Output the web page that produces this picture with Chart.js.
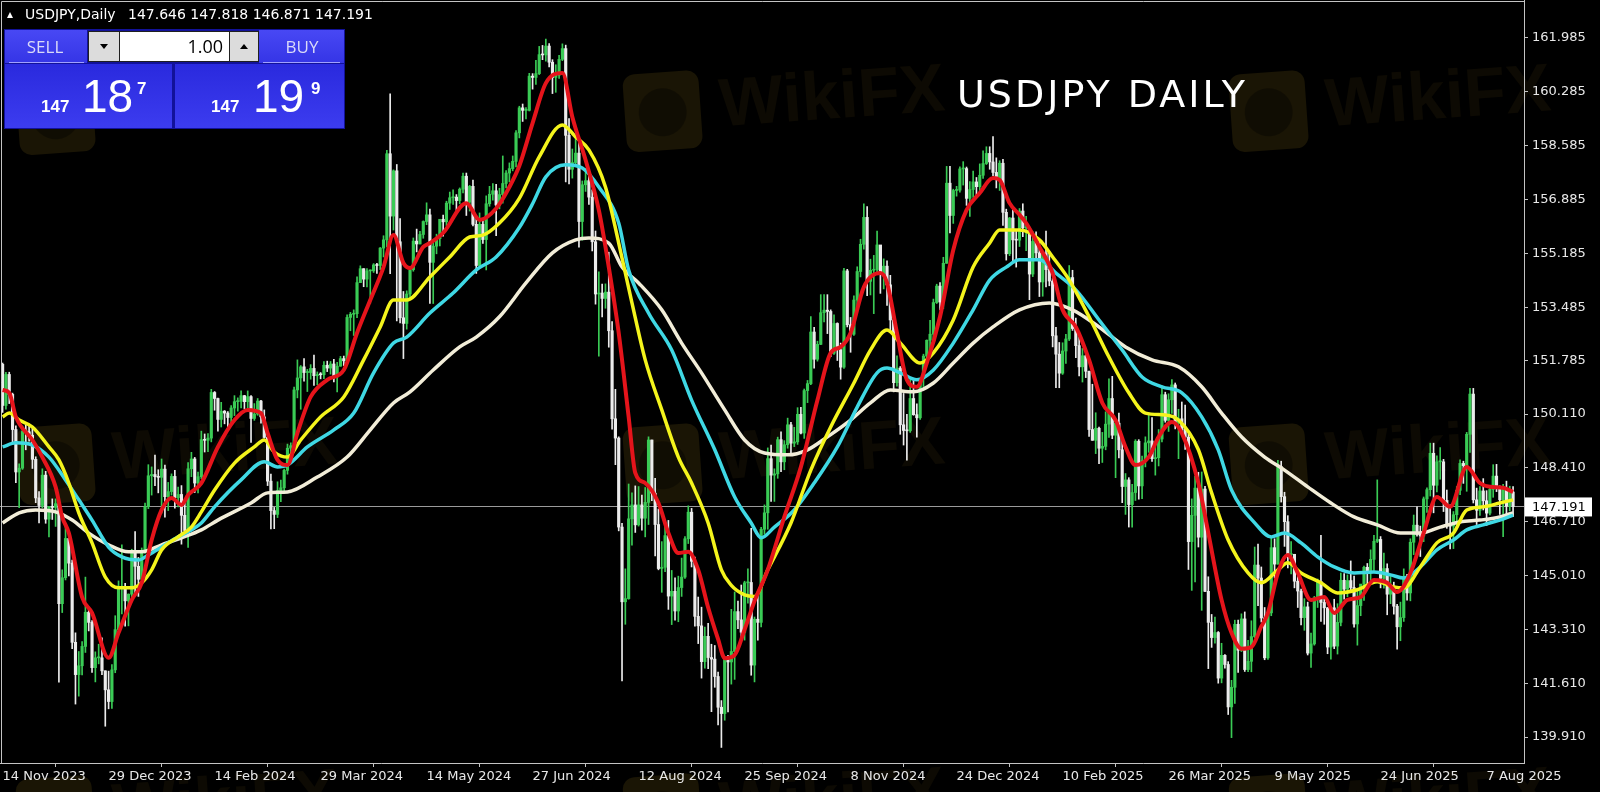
<!DOCTYPE html>
<html lang="en">
<head>
<meta charset="UTF-8">
<title>USDJPY Daily</title>
<script src="https://cdn.jsdelivr.net/npm/chart.js"></script>
<style>
    html, body { margin: 0; padding: 0; background: #000; }
    #chartBox { width: 1600px; height: 792px; }
</style>
</head>
<body>
<div id="chartBox"><canvas id="fxChart" width="1600" height="792"></canvas></div>
<script>
// daily candles, bar 0 = 14 Nov 2023, last bar = 19 Aug 2025
const opens = [
  151.68,150.38,151.36,150.73,149.62, 148.28,148.40,149.56,149.55,
  149.44,148.68,147.46,147.22,148.18, 146.79,147.19,147.16,147.28,144.12,
  144.94,146.18,145.40,142.90,141.88, 142.16,142.77,143.85,143.53,142.10,
  142.41,142.41,142.00,141.40, 141.03,142.03,143.30,144.60,
  144.64,144.21,144.42,145.74,145.30, 144.89,145.76,147.19,148.16,148.20,
  148.13,148.11,148.37,147.50,147.66, 148.14,147.47,147.57,146.91,146.43,
  148.38,148.69,147.93,148.13,149.30, 149.28,149.35,150.79,150.60,149.94,
  150.20,150.14,150.00,150.30,150.50, 150.51,150.69,150.50,150.66,149.97,
  150.11,150.52,150.02,149.37,147.99, 147.06,146.94,147.69,147.78,148.33,
  149.03,149.11,150.87,151.25,151.60, 151.42,151.42,151.55,151.32,151.36,
  151.35,151.65,151.56,151.69,151.28, 151.62,151.86,151.79,153.16,153.26,
  153.28,154.26,154.70,154.37,154.63, 154.63,154.82,154.80,155.35,155.61,
  158.33,156.36,157.79,155.55,153.15, 152.97,153.90,154.67,155.57,155.48,
  155.78,156.19,156.40,154.90,155.41, 155.65,156.26,156.18,156.77,156.94,
  156.96,156.85,157.21,157.62,156.80, 157.30,156.10,154.80,156.10,155.62,
  156.75,157.05,157.16,156.71,157.04, 157.39,157.72,157.86,158.09,158.99,
  159.78,159.70,159.70,160.78,160.74, 160.86,161.46,161.45,161.73,161.22,
  160.74,160.81,161.31,161.65,158.91, 157.84,158.05,158.35,156.19,157.35,
  157.48,156.96,155.55,153.90,153.93, 153.76,153.96,152.74,149.96,149.35,
  146.54,144.18,144.28,146.80,147.24, 146.61,147.24,146.82,147.32,149.29,
  147.61,146.62,145.23,145.27,146.27, 144.36,144.51,143.89,144.63,144.96,
  146.17,147.01,145.46,143.72,143.42, 142.29,143.09,142.42,142.37,141.82,
  140.85,140.65,142.36,142.28,142.61, 143.87,143.61,143.22,144.78,144.79,
  142.18,143.63,143.53,146.47,146.99, 148.70,148.18,148.22,149.30,148.60,
  149.14,149.77,149.19,149.23,150.10, 149.51,150.85,151.07,152.70,151.84,
  152.31,153.31,153.39,153.35,152.03, 152.97,152.14,151.59,154.63,152.93,
  152.63,153.71,154.61,155.47,156.32, 154.30,154.65,154.67,155.45,154.54,
  154.78,154.19,153.08,151.10,151.56, 149.77,149.59,149.58,150.60,150.09,
  149.99,151.24,151.94,152.44,152.63, 153.63,154.15,153.65,154.87,157.40,
  156.38,157.17,157.18,157.85, 157.86,156.92, 157.20,157.44,
  157.29,157.65,158.02,158.34,158.07, 157.74,157.55,158.03,156.48,155.17,
  156.30,155.61,155.60,156.52,155.99, 155.99,154.53,155.56,155.20,154.28,
  155.19,154.67,154.31,152.58,152.00, 151.40,152.10,152.48,154.42,152.81,
  152.27,151.60,151.95,151.46,149.62, 149.28,149.66,149.03,149.09,149.79,
  150.60,149.44,149.82,148.98,147.82, 148.03,147.25,147.63,149.25,147.84,
  148.64,149.20,149.26,148.70,148.73, 149.32,150.72,149.91,150.56,151.03,
  149.83,149.96,149.62,149.38,146.08, 146.91,147.77,146.22,147.74,144.51,
  143.53,143.05,143.21,141.77,142.49, 142.20,140.86,141.48,143.47,142.65,
  143.64,142.04,142.30,143.08,145.34, 144.93,143.67,142.41,143.83,145.89,
  145.37,148.45,147.50,146.71,145.67, 145.68,144.83,144.52,143.68,144.02,
  142.56,142.85,144.30,144.82,144.16, 143.99,142.75,143.99,142.78,143.53,
  144.86,144.58,144.85,144.63,143.48, 144.06,144.74,145.27,145.11,145.52,
  146.09,146.15,144.92,145.23,144.42, 144.63,144.04,143.39,143.68,144.95,
  144.46,146.06,146.60,146.31,146.26, 147.43,147.72,148.87,147.86,148.60,
  148.60,147.38,146.59,146.57,146.93, 147.70,148.55,148.48,149.47,150.74,
  147.40,147.07,147.68,147.37,146.98, 147.73,148.15,147.82,147.40,147.73,
  147.20,147.646
];
const highs = [
  151.72,151.43,151.43,150.77,149.74, 148.54,149.73,149.76,149.79,
  149.69,148.76,147.66,148.38,148.30, 147.18,147.43,147.43,147.31,145.19,
  146.59,146.34,145.50,143.20,142.61, 142.92,144.96,144.01,143.59,142.60,
  142.84,143.04,142.00,141.99, 142.20,143.74,144.84,145.98,
  144.76,144.43,145.84,146.40,145.58, 145.88,147.30,148.51,148.44,148.81,
  148.35,148.69,148.50,147.95,148.22, 148.33,147.80,147.85,147.38,148.58,
  148.90,148.74,148.28,149.57,149.48, 149.49,150.89,150.82,150.61,150.48,
  150.22,150.19,150.38,150.69,150.62, 150.84,150.70,150.84,150.69,150.44,
  150.60,150.54,150.24,149.45,148.21, 147.16,147.97,148.02,148.37,149.16,
  149.20,150.96,151.82,151.64,151.86, 151.52,151.67,151.97,151.44,151.42,
  151.77,151.78,151.77,151.84,151.74, 151.93,151.94,153.24,153.32,153.40,
  154.44,154.79,154.70,154.70,154.66, 154.86,154.87,155.37,155.74,158.44,
  160.22,157.82,157.99,156.28,153.98, 154.00,154.75,155.67,155.95,155.88,
  156.21,156.78,156.58,155.56,155.79, 156.26,156.39,156.83,157.12,157.19,
  157.04,157.25,157.72,157.72,157.33, 157.50,156.28,156.46,156.23,157.00,
  157.30,157.39,157.36,157.24,158.26, 157.80,158.04,158.26,159.06,159.83,
  159.90,159.79,160.87,160.86,161.28, 161.72,161.75,161.95,161.81,161.30,
  161.14,161.44,161.80,161.76,159.44, 158.48,158.87,158.85,157.47,157.86,
  157.87,157.19,155.89,154.60,154.21, 154.22,155.22,153.03,150.89,149.39,
  146.66,145.22,147.90,147.62,147.84, 147.82,147.55,147.79,149.39,149.29,
  148.08,147.11,146.08,146.64,146.75, 145.17,144.94,144.99,145.56,146.24,
  147.21,147.13,145.59,144.33,144.01, 143.38,143.50,142.84,142.80,141.96,
  141.06,142.45,142.49,143.94,144.49, 144.20,144.71,144.83,145.22,146.50,
  143.70,144.53,146.53,147.24,149.04, 149.13,148.38,149.38,149.55,149.27,
  149.98,149.85,149.69,150.31,150.32, 150.90,151.17,153.19,152.85,152.41,
  153.88,153.88,153.88,153.40,153.24, 152.99,152.35,154.71,154.68,153.16,
  153.84,154.76,155.63,156.75,156.66, 155.00,155.12,155.89,155.38,155.01,
  154.95,154.49,153.15,151.95,151.61, 150.76,150.10,151.24,151.23,150.43,
  151.24,152.00,152.45,153.07,153.74, 154.21,154.26,155.06,157.93,157.93,
  157.21,157.30,157.92,158.08, 157.91,157.45, 157.78,157.58,
  158.01,158.42,158.55,158.55,158.87, 158.20,158.11,158.15,156.58,156.32,
  156.56,155.88,156.60,156.75,156.35, 156.01,155.87,155.86,155.56,155.22,
  155.89,155.17,154.39,152.85,152.37, 152.36,152.63,154.80,154.65,153.14,
  152.53,152.18,152.14,151.47,151.05, 150.15,149.70,149.53,150.18,151.22,
  151.30,149.90,150.14,149.28,148.23, 148.10,147.89,149.30,149.30,148.78,
  149.39,150.15,150.00,149.20,149.62, 151.00,150.80,150.75,151.20,151.09,
  150.26,150.49,150.39,149.49,147.43, 148.14,148.27,148.28,147.83,144.97,
  143.78,143.70,143.24,142.87,142.51, 142.29,141.70,143.60,143.60,143.80,
  143.86,142.96,143.58,145.91,146.00, 145.28,144.00,143.88,146.18,146.17,
  148.65,148.62,147.64,146.90,146.08, 145.68,144.98,144.58,144.28,144.17,
  143.19,144.35,144.90,146.28,144.29, 144.00,144.03,144.26,144.12,145.09,
  145.07,145.03,145.47,144.99,144.55, 144.68,145.31,145.39,145.82,146.28,
  148.03,146.24,145.72,145.38,144.98, 144.80,144.10,144.17,145.22,145.05,
  146.17,146.92,147.18,146.57,147.49, 147.78,149.19,149.19,148.79,149.05,
  148.68,147.71,147.24,147.03,147.82, 148.66,148.62,149.53,150.92,150.92,
  147.77,147.82,148.07,147.69,147.83, 148.51,148.52,147.84,147.89,147.99,
  147.83,147.818
];
const lows = [
  150.16,150.26,150.44,149.19,147.94, 147.15,148.36,148.98,149.25,
  148.39,147.31,146.67,147.15,146.66, 146.23,146.78,146.56,141.64,143.84,
  144.87,145.00,142.70,140.95,141.20, 141.87,142.58,143.26,141.95,141.65,
  142.22,141.88,140.25,140.80, 140.81,141.94,143.17,143.80,
  143.41,143.42,144.33,144.35,144.35, 144.87,145.71,147.12,147.55,147.85,
  147.62,146.98,146.85,147.06,147.55, 147.14,147.18,146.00,146.22,145.90,
  148.13,147.63,147.62,148.07,148.91, 148.92,149.23,150.23,149.57,149.70,
  149.80,149.68,149.84,150.06,150.20, 150.30,150.28,150.27,149.21,149.91,
  150.07,149.82,149.35,147.85,146.48, 146.49,146.84,147.34,147.60,148.21,
  148.66,148.94,150.62,150.26,151.15, 150.82,151.21,151.01,151.03,151.22,
  151.23,151.45,151.37,151.12,150.81, 151.62,151.64,151.66,152.74,152.59,
  153.15,154.26,154.13,154.12,153.60, 154.58,154.55,154.67,155.07,155.39,
  154.54,155.92,153.05,152.99,151.86, 152.79,153.75,154.62,155.23,155.48,
  155.66,156.09,153.60,153.60,155.17, 155.42,155.73,156.06,156.57,156.73,
  156.54,156.75,157.09,156.38,156.52, 156.05,154.55,154.71,155.50,154.66,
  156.67,156.86,155.74,156.59,156.77, 157.25,157.44,157.79,157.91,158.83,
  159.35,159.43,159.68,160.37,160.52, 160.83,161.30,161.25,161.07,160.23,
  160.27,160.71,161.27,157.44,157.38, 157.56,157.93,155.38,155.60,157.14,
  156.73,155.26,153.58,151.94,153.18, 153.45,152.22,149.63,148.51,146.42,
  141.68,143.47,144.26,145.97,146.37, 146.57,146.44,146.23,146.62,147.37,
  145.63,145.19,144.48,145.13,143.94, 143.46,143.60,143.55,144.35,144.92,
  146.02,145.28,143.41,142.86,141.77, 142.08,142.07,140.71,141.48,140.29,
  139.58,140.44,140.70,141.58,141.73, 143.33,143.04,142.97,144.14,141.86,
  141.65,142.97,143.39,146.31,146.47, 147.35,147.35,148.08,148.29,148.35,
  149.03,148.85,149.08,149.15,149.48, 149.34,150.47,151.04,151.56,151.78,
  152.30,153.02,152.65,151.92,151.99, 151.80,151.21,151.55,152.86,152.06,
  152.59,153.51,154.44,155.32,153.85, 153.87,153.28,154.60,153.92,154.06,
  153.54,152.75,150.81,150.99,149.47, 149.13,148.65,149.53,150.07,149.38,
  149.94,150.98,151.76,152.14,152.44, 153.60,153.40,153.44,154.87,155.83,
  156.13,156.99,157.12,157.34, 156.70,156.35, 156.95,156.95,
  157.06,157.55,157.99,157.84,157.64, 157.25,157.17,156.07,154.97,155.11,
  154.91,154.75,155.40,155.71,155.27, 153.72,154.45,155.05,153.82,153.83,
  154.12,154.16,152.23,150.94,150.94, 151.36,151.71,152.43,152.75,151.89,
  151.31,151.12,151.26,149.40,149.28, 148.86,148.54,148.58,148.98,149.37,
  149.33,148.10,148.72,147.31,146.94, 146.54,146.54,147.38,147.42,147.44,
  148.44,148.90,148.61,148.18,148.47, 149.23,149.85,149.56,150.13,149.64,
  148.70,149.51,148.99,145.20,144.54, 144.81,145.91,143.91,144.50,142.07,
  142.74,142.87,141.61,141.62,142.08, 140.62,139.89,140.97,141.95,142.61,
  141.98,141.97,141.97,143.05,144.06, 143.54,142.35,142.36,143.74,144.93,
  145.37,147.33,145.93,145.25,145.06, 144.62,144.00,143.45,143.28,142.50,
  142.11,142.81,144.00,143.56,143.47, 142.54,142.37,142.70,142.53,143.42,
  144.26,144.34,144.55,143.38,142.81, 143.74,144.22,144.61,144.84,145.17,
  146.05,144.62,144.61,143.77,144.12, 143.79,142.68,142.95,143.56,144.23,
  144.21,145.67,146.25,145.61,146.08, 147.00,147.52,146.99,147.65,148.05,
  147.03,146.50,145.85,145.86,146.61, 147.56,147.92,147.67,148.90,147.30,
  146.62,146.91,147.08,146.59,146.92, 147.48,147.66,146.94,146.24,146.88,
  147.05,146.871
];
const closes = [
  150.38,151.36,150.73,149.62,148.28, 148.40,149.56,149.55,149.44,
  148.68,147.46,147.22,148.18,146.79, 147.19,147.16,147.28,144.12,144.94,
  146.18,145.40,142.90,141.88,142.16, 142.77,143.85,143.53,142.10,142.41,
  142.41,142.00,141.40,141.03, 142.03,143.30,144.60,144.64,
  144.21,144.42,145.74,145.30,144.89, 145.76,147.19,148.16,148.20,148.13,
  148.11,148.37,147.50,147.66,148.14, 147.47,147.57,146.91,146.43,148.38,
  148.69,147.93,148.13,149.30,149.28, 149.35,150.79,150.60,149.94,150.20,
  150.14,150.00,150.30,150.50,150.51, 150.69,150.50,150.66,149.97,150.11,
  150.52,150.02,149.37,147.99,147.06, 146.94,147.69,147.78,148.33,149.03,
  149.11,150.87,151.25,151.60,151.42, 151.42,151.55,151.32,151.36,151.35,
  151.65,151.56,151.69,151.28,151.62, 151.86,151.79,153.16,153.26,153.28,
  154.26,154.70,154.37,154.63,154.63, 154.82,154.80,155.35,155.61,158.33,
  156.36,157.79,155.55,153.15,152.97, 153.90,154.67,155.57,155.48,155.78,
  156.19,156.40,154.90,155.41,155.65, 156.26,156.18,156.77,156.94,156.96,
  156.85,157.21,157.62,156.80,157.30, 156.10,154.80,156.10,155.62,156.75,
  157.05,157.16,156.71,157.04,157.39, 157.72,157.86,158.09,158.99,159.78,
  159.70,159.70,160.78,160.74,160.86, 161.46,161.45,161.73,161.22,160.74,
  160.81,161.31,161.65,158.91,157.84, 158.05,158.35,156.19,157.35,157.48,
  156.96,155.55,153.90,153.93,153.76, 153.96,152.74,149.96,149.35,146.54,
  144.18,144.28,146.80,147.24,146.61, 147.24,146.82,147.32,149.29,147.61,
  146.62,145.23,145.27,146.27,144.36, 144.51,143.89,144.63,144.96,146.17,
  147.01,145.46,143.72,143.42,142.29, 143.09,142.42,142.37,141.82,140.85,
  140.65,142.36,142.28,142.61,143.87, 143.61,143.22,144.78,144.79,142.18,
  143.63,143.53,146.47,146.99,148.70, 148.18,148.22,149.30,148.60,149.14,
  149.77,149.19,149.23,150.10,149.51, 150.85,151.07,152.70,151.84,152.31,
  153.31,153.39,153.35,152.03,152.97, 152.14,151.59,154.63,152.93,152.63,
  153.71,154.61,155.47,156.32,154.30, 154.65,154.67,155.45,154.54,154.78,
  154.19,153.08,151.10,151.56,149.77, 149.59,149.58,150.60,150.09,149.99,
  151.24,151.94,152.44,152.63,153.63, 154.15,153.65,154.87,157.40,156.38,
  157.17,157.18,157.85,157.86, 156.92,157.20, 157.44,157.29,
  157.65,158.02,158.34,158.07,157.74, 157.55,158.03,156.48,155.17,156.30,
  155.61,155.60,156.52,155.99,155.99, 154.53,155.56,155.20,154.28,155.19,
  154.67,154.31,152.58,152.00,151.40, 152.10,152.48,154.42,152.81,152.27,
  151.60,151.95,151.46,149.62,149.28, 149.66,149.03,149.09,149.79,150.60,
  149.44,149.82,148.98,147.82,148.03, 147.25,147.63,149.25,147.84,148.64,
  149.20,149.26,148.70,148.73,149.32, 150.72,149.91,150.56,151.03,149.83,
  149.96,149.62,149.38,146.08,146.91, 147.77,146.22,147.74,144.51,143.53,
  143.05,143.21,141.77,142.49,142.20, 140.86,141.48,143.47,142.65,143.64,
  142.04,142.30,143.08,145.34,144.93, 143.67,142.41,143.83,145.89,145.37,
  148.45,147.50,146.71,145.67,145.68, 144.83,144.52,143.68,144.02,142.56,
  142.85,144.30,144.82,144.16,143.99, 142.75,143.99,142.78,143.53,144.86,
  144.58,144.85,144.63,143.48,144.06, 144.74,145.27,145.11,145.52,146.09,
  146.15,144.92,145.23,144.42,144.63, 144.04,143.39,143.68,144.95,144.46,
  146.06,146.60,146.31,146.26,147.43, 147.72,148.87,147.86,148.60,148.60,
  147.38,146.59,146.57,146.93,147.70, 148.55,148.48,149.47,150.74,147.40,
  147.07,147.68,147.37,146.98,147.73, 148.15,147.82,147.40,147.73,147.20,
  147.64,147.191
];

// moving averages (bar index -> price)
const redBars = [0,2,4,9,12,16,18,20,24,27,32,35,39,42,45,48,51,54,56,60,65,70,74,78,80,83,86,89,93,98,103,107,111,115,118,121,123,127,129,133,140,144,149,153,156,160,164,169,172,176,180,183,186,189,191,194,198,201,204,207,210,213,216,218,221,224,227,231,236,241,246,250,253,256,260,265,267,270,273,276,279,283,287,291,295,299,301,304,307,309,313,317,320,324,328,332,336,339,342,346,349,353,356,361,364,368,371,374,377,380,382,385,388,391,395,399,402,406,410,414,418,421,425,429,433,437,442,446,449,453,456];
const redVals = [150.87,150.78,150.02,149.29,148.75,147.81,146.86,146.35,144.33,143.83,142.41,143.20,144.24,144.78,146.13,147.08,147.46,147.24,147.55,147.93,149.07,149.92,150.24,150.14,149.51,148.66,148.50,149.51,150.65,151.19,151.50,152.67,153.71,154.75,155.76,154.88,154.72,155.39,155.51,155.83,156.77,156.24,156.60,157.28,157.95,159.30,160.56,160.88,159.49,158.13,156.55,154.75,152.67,150.02,148.25,147.93,147.30,146.35,145.72,145.76,145.19,144.00,143.00,142.40,142.50,143.30,144.20,145.19,146.86,148.44,150.55,152.04,152.23,152.67,154.12,154.56,154.25,152.67,151.19,150.97,151.72,153.18,155.29,156.55,157.09,157.56,157.50,156.77,156.40,156.14,155.39,154.56,153.40,152.86,151.82,150.46,149.92,149.07,148.50,148.75,149.39,149.86,149.51,147.93,146.35,144.24,143.20,142.70,142.75,143.40,143.83,145.09,145.66,145.09,144.24,144.33,143.83,144.24,144.33,144.87,144.78,144.49,145.09,146.35,147.49,147.18,148.44,147.93,147.81,147.78,147.65];
const yellowBars = [0,2,5,9,14,17,20,23,27,31,35,39,42,45,48,53,57,60,64,70,76,79,82,86,90,96,103,109,114,118,122,129,135,141,145,150,156,162,169,173,177,182,186,190,194,199,204,208,213,217,220,224,227,231,238,244,250,257,262,267,271,277,281,287,293,298,301,307,313,317,322,328,334,340,345,351,355,361,365,370,376,380,385,388,392,398,403,409,415,420,423,428,433,438,442,447,452,456];
const yellowVals = [150.02,150.14,149.92,149.70,149.07,148.66,147.93,146.99,146.04,144.96,144.62,144.62,144.78,145.19,145.82,146.23,146.54,147.02,147.71,148.56,149.07,149.29,148.91,148.75,149.29,150.02,150.65,151.82,152.86,153.71,153.71,154.44,155.07,155.70,155.76,156.14,156.92,158.23,159.24,158.86,158.45,157.28,155.51,153.62,151.82,150.24,148.75,147.93,146.67,145.19,144.70,144.40,144.35,145.19,146.67,148.34,149.70,151.09,152.13,152.76,152.35,151.72,152.04,153.08,154.75,155.51,155.92,155.92,155.61,155.07,154.34,153.18,151.91,150.78,150.14,150.08,149.92,148.98,147.62,146.13,145.09,144.78,145.19,145.41,145.09,144.78,144.46,144.56,144.81,144.65,144.62,145.28,146.04,146.35,147.08,147.18,147.30,147.40];
const cyanBars = [0,4,9,14,19,23,27,32,36,41,44,48,53,57,60,64,72,79,83,86,92,100,106,112,118,122,129,136,143,149,156,160,164,170,175,180,186,189,195,202,208,215,221,226,229,233,239,245,252,258,264,267,271,276,281,287,293,298,303,307,313,318,324,331,338,344,350,356,362,367,371,378,383,387,392,397,402,408,414,419,423,428,433,438,442,447,452,456];
const cyanVals = [149.07,149.20,149.13,148.75,148.03,147.40,146.76,145.91,145.60,145.50,145.66,145.91,146.23,146.45,146.67,147.18,148.03,148.60,148.44,148.50,149.07,149.61,150.14,151.41,152.35,152.54,153.30,153.93,154.66,155.07,156.00,156.75,157.60,157.98,157.88,157.28,156.14,154.66,153.30,152.13,150.55,148.98,147.49,146.67,146.20,146.54,147.08,147.93,149.07,150.33,151.41,151.56,151.41,151.19,151.50,152.35,153.40,154.34,154.75,154.98,154.98,154.56,154.03,153.08,152.13,151.28,150.97,150.78,150.02,148.98,147.71,146.67,146.23,146.35,146.04,145.60,145.28,145.09,145.12,145.03,144.93,145.28,145.82,146.13,146.45,146.61,146.76,146.92];
const beigeBars = [0,5,10,16,21,26,32,38,42,48,54,60,65,75,80,86,95,104,111,118,123,130,138,143,150,158,166,173,177,183,187,192,199,205,211,218,224,230,237,243,249,256,262,268,275,281,287,293,299,307,316,323,331,339,347,355,362,368,374,381,387,394,401,408,415,422,428,434,440,446,452,456];
const beigeVals = [146.67,146.99,147.08,147.02,146.76,146.35,145.98,145.76,145.76,145.98,146.20,146.45,146.76,147.30,147.62,147.65,148.12,148.75,149.61,150.46,150.81,151.50,152.23,152.54,153.18,154.25,155.20,155.61,155.67,155.51,154.75,154.25,153.40,152.35,151.41,150.24,149.29,148.88,148.82,148.98,149.39,149.92,150.46,150.87,150.81,151.09,151.72,152.35,152.86,153.40,153.62,153.40,152.86,152.23,151.82,151.60,150.97,150.14,149.39,148.75,148.34,147.81,147.30,146.86,146.61,146.35,146.35,146.54,146.70,146.76,146.86,146.99];

// axis labels
const labelBars = [0,32,64,96,128,160,192,224,256,288,320,352,384,416,448];
const dateLabels = ['14 Nov 2023','29 Dec 2023','14 Feb 2024','29 Mar 2024','14 May 2024','27 Jun 2024','12 Aug 2024','25 Sep 2024','8 Nov 2024','24 Dec 2024','10 Feb 2025','26 Mar 2025','9 May 2025','24 Jun 2025','7 Aug 2025'];
const priceTicks = [139.910,141.610,143.310,145.010,146.710,148.410,150.110,151.785,153.485,155.185,156.885,158.585,160.285,161.985];
const lastPrice = 147.191;
const headerQuote = ['147.646','147.818','146.871','147.191'];

var UP = '#3acb55';
var DOWN = '#ececec';
var AXIS = '#c4c4c4';
var AXIS_FONT = {family: 'DejaVu Sans', size: 13};

var wickData = [], bodyData = [], candleColors = [];
for (var i = 0; i < closes.length; i++) {
    wickData.push({x: i, y: [lows[i], highs[i]]});
    bodyData.push({x: i, y: [Math.min(opens[i], closes[i]), Math.max(opens[i], closes[i])]});
    candleColors.push(closes[i] >= opens[i] ? UP : DOWN);
}

function maPoints(bars, vals) {
    return bars.map(function (b, k) { return {x: b, y: vals[k]}; });
}

function maLine(label, bars, vals, color, width, order) {
    return {
        type: 'line', label: label, data: maPoints(bars, vals),
        borderColor: color, borderWidth: width, pointRadius: 0,
        cubicInterpolationMode: 'monotone', order: order
    };
}

function drawMark(ctx, x, y) {
    ctx.save();
    ctx.translate(x, y);
    ctx.rotate(-0.07);
    ctx.fillStyle = 'rgba(120, 95, 25, 0.22)';
    ctx.beginPath();
    ctx.roundRect(0, 0, 76, 78, 12);
    ctx.fill();
    ctx.fillStyle = 'rgba(0, 0, 0, 0.35)';
    ctx.beginPath();
    ctx.arc(38, 40, 24, 0, Math.PI * 2);
    ctx.fill();
    ctx.fillStyle = 'rgba(120, 95, 25, 0.11)';
    ctx.font = 'bold 68px "Liberation Sans"';
    ctx.textBaseline = 'alphabetic';
    ctx.fillText('WikiFX', 95, 58);
    ctx.restore();
}

function drawPanel(ctx) {
    ctx.save();
    ctx.fillStyle = '#12129a';
    ctx.fillRect(4, 29, 341, 100);
    var top = ctx.createLinearGradient(0, 30, 0, 63);
    top.addColorStop(0, '#4848f4');
    top.addColorStop(1, '#3535e6');
    ctx.fillStyle = top;
    ctx.fillRect(5, 30, 82, 33);
    ctx.fillRect(259, 30, 85, 33);
    var low = ctx.createLinearGradient(0, 64, 0, 128);
    low.addColorStop(0, '#2a2ade');
    low.addColorStop(1, '#3c3cef');
    ctx.fillStyle = low;
    ctx.fillRect(5, 64, 167, 64);
    ctx.fillRect(175, 64, 169, 64);
    ctx.strokeStyle = '#a0a0ff';
    ctx.lineWidth = 1;
    ctx.beginPath();
    ctx.moveTo(9, 62.5); ctx.lineTo(84, 62.5);
    ctx.moveTo(263, 62.5); ctx.lineTo(340, 62.5);
    ctx.stroke();
    // lot size box
    ctx.fillStyle = '#202020';
    ctx.fillRect(88, 31, 171, 31);
    ctx.fillStyle = '#dcdcdc';
    ctx.fillRect(89, 32, 30, 29);
    ctx.fillRect(230, 32, 28, 29);
    ctx.fillStyle = '#ffffff';
    ctx.fillRect(120, 32, 109, 29);
    ctx.fillStyle = '#000';
    ctx.beginPath();
    ctx.moveTo(100, 44); ctx.lineTo(108, 44); ctx.lineTo(104, 49); ctx.closePath(); ctx.fill();
    ctx.beginPath();
    ctx.moveTo(240, 49); ctx.lineTo(248, 49); ctx.lineTo(244, 44); ctx.closePath(); ctx.fill();
    ctx.font = '18px "Open Sans"';
    ctx.textAlign = 'right';
    ctx.textBaseline = 'alphabetic';
    ctx.fillText('1.00', 223, 53);
    ctx.textAlign = 'center';
    ctx.fillStyle = '#dadaf8';
    ctx.font = '17px "Open Sans"';
    ctx.fillText('SELL', 45, 53);
    ctx.fillText('BUY', 302, 53);
    // quotes
    ctx.fillStyle = '#ffffff';
    ctx.textAlign = 'left';
    ctx.font = 'bold 17px "Liberation Sans"';
    ctx.fillText('147', 41, 112);
    ctx.fillText('147', 211, 112);
    ctx.fillText('7', 137, 94);
    ctx.fillText('9', 311, 94);
    ctx.font = '46px "Liberation Sans"';
    ctx.fillText('18', 82, 112);
    ctx.fillText('19', 253, 112);
    ctx.restore();
}

var decor = {
    id: 'decor',
    beforeDraw: function (chart) {
        var ctx = chart.ctx;
        [[15, 78], [622, 75], [1228, 75], [15, 428], [622, 428], [1228, 428], [15, 780], [622, 778], [1228, 778]].forEach(function (p) {
            drawMark(ctx, p[0], p[1]);
        });
    },
    beforeDatasetsDraw: function (chart) {
        var ctx = chart.ctx, area = chart.chartArea;
        var y = Math.round(chart.scales.y.getPixelForValue(lastPrice)) + 0.5;
        ctx.save();
        ctx.strokeStyle = '#9a9a9a';
        ctx.lineWidth = 1;
        ctx.beginPath();
        ctx.moveTo(area.left, y);
        ctx.lineTo(area.right, y);
        ctx.stroke();
        ctx.restore();
    },
    afterDraw: function (chart) {
        var ctx = chart.ctx, area = chart.chartArea;
        ctx.save();
        // frame
        ctx.strokeStyle = AXIS;
        ctx.lineWidth = 1;
        ctx.beginPath();
        ctx.moveTo(1.5, area.bottom);
        ctx.lineTo(1.5, 1.5);
        ctx.lineTo(area.right, 1.5);
        ctx.stroke();
        // price tag
        var y = chart.scales.y.getPixelForValue(lastPrice);
        ctx.fillStyle = '#ffffff';
        ctx.fillRect(area.right + 1, y - 9, 67, 19);
        ctx.fillStyle = '#000000';
        ctx.font = '13px "DejaVu Sans"';
        ctx.textBaseline = 'middle';
        ctx.fillText(lastPrice.toFixed(3), area.right + 8, y + 1);
        // header line
        ctx.fillStyle = '#ffffff';
        ctx.beginPath();
        ctx.moveTo(7, 18); ctx.lineTo(13, 18); ctx.lineTo(10, 12); ctx.closePath(); ctx.fill();
        ctx.font = '14px "DejaVu Sans"';
        ctx.textBaseline = 'middle';
        ctx.fillText('USDJPY,Daily', 25, 15);
        ctx.fillText(headerQuote.join(' '), 128, 15);
        // title
        ctx.font = '38px "Comic Sans MS", "DejaVu Sans"';
        ctx.letterSpacing = '3px';
        ctx.textBaseline = 'alphabetic';
        ctx.fillText('USDJPY DAILY', 957, 107);
        ctx.letterSpacing = '0px';
        ctx.restore();
        drawPanel(ctx);
    }
};

new Chart(document.getElementById('fxChart').getContext('2d'), {
    type: 'bar',
    data: {
        datasets: [
            maLine('MA red', redBars, redVals, '#e5141b', 4, 1),
            maLine('MA yellow', yellowBars, yellowVals, '#f4f41c', 3.5, 2),
            maLine('MA cyan', cyanBars, cyanVals, '#3fd8e4', 3.5, 3),
            maLine('MA beige', beigeBars, beigeVals, '#f2edd8', 3.5, 4),
            {label: 'bodies', data: bodyData, backgroundColor: candleColors, barThickness: 2.5, grouped: false, minBarLength: 1, order: 9},
            {label: 'wicks', data: wickData, backgroundColor: candleColors, barThickness: 1, grouped: false, order: 10}
        ]
    },
    options: {
        responsive: false,
        devicePixelRatio: 1,
        animation: false,
        layout: {padding: 0},
        plugins: {legend: {display: false}, tooltip: {enabled: false}},
        scales: {
            x: {
                type: 'linear',
                position: 'bottom',
                min: -0.785,
                max: 459.3,
                offset: false,
                grid: {display: true, drawOnChartArea: false, drawTicks: true, tickLength: 4, color: AXIS},
                border: {display: true, color: AXIS},
                ticks: {
                    align: 'start', color: '#e8e8e8', font: AXIS_FONT, padding: 2,
                    autoSkip: false, maxRotation: 0,
                    callback: function (value) { return dateLabels[labelBars.indexOf(value)]; }
                },
                afterBuildTicks: function (scale) {
                    scale.ticks = labelBars.map(function (v) { return {value: v}; });
                },
                afterFit: function (scale) {
                    scale.height = 29;
                    scale.paddingLeft = 0;
                    scale.paddingRight = 0;
                }
            },
            y: {
                type: 'linear',
                position: 'right',
                min: 139.089,
                max: 163.185,
                grid: {display: true, drawOnChartArea: false, drawTicks: true, tickLength: 4, color: AXIS},
                border: {display: true, color: AXIS},
                ticks: {
                    color: '#e8e8e8', font: AXIS_FONT, padding: 4,
                    callback: function (value) { return value.toFixed(3); }
                },
                afterBuildTicks: function (scale) {
                    scale.ticks = priceTicks.map(function (v) { return {value: v}; });
                },
                afterFit: function (scale) {
                    scale.width = 76;
                    scale.paddingTop = 0;
                    scale.paddingBottom = 0;
                }
            }
        }
    },
    plugins: [decor]
});
</script>
</body>
</html>
